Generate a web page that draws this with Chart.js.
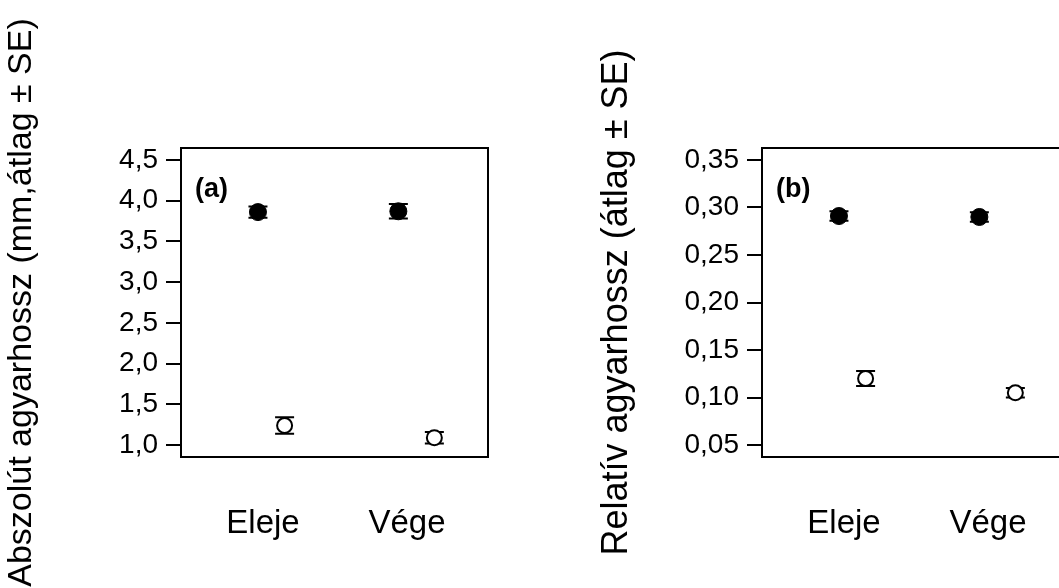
<!DOCTYPE html>
<html>
<head>
<meta charset="utf-8">
<script src="https://cdn.jsdelivr.net/npm/chart.js@4.4.1/dist/chart.umd.min.js"></script>
<style>
  html, body { margin: 0; padding: 0; background: #fff; overflow: hidden; }
  body { width: 1059px; height: 588px; position: relative; }
  .panel { position: absolute; top: 0; width: 540px; height: 588px; }
  #panelA { left: 0; }
  #panelB { left: 581px; }
</style>
</head>
<body>
<div class="panel" id="panelA"><canvas id="chartA" width="540" height="588"></canvas></div>
<div class="panel" id="panelB"><canvas id="chartB" width="540" height="588"></canvas></div>
<script>
// Categories on the x axis
const categories = ['Eleje', 'Vége'];
const categoryPos = [1, 2];
// where the two groups sit around each category
const filledX = [0.965, 1.94];
const openX = [1.15, 2.19];

// (a) absolute tusk length
const absFilledMean = [3.86, 3.87];
const absFilledSE = [0.07, 0.09];
const absOpenMean = [1.24, 1.09];
const absOpenSE = [0.10, 0.07];
const absTicks = [1.0, 1.5, 2.0, 2.5, 3.0, 3.5, 4.0, 4.5];

// (b) relative tusk length
const relFilledMean = [0.291, 0.290];
const relFilledSE = [0.005, 0.005];
const relOpenMean = [0.120, 0.105];
const relOpenSE = [0.008, 0.005];
const relTicks = [0.05, 0.10, 0.15, 0.20, 0.25, 0.30, 0.35];

const FONT = "'Liberation Sans', Arial, Helvetica, sans-serif";

function makePoints(xs, means, ses) {
    return xs.map((x, i) => ({ x: x, y: means[i], se: ses[i] }));
}

// Error bars (mean ± SE) drawn under the markers
const errorBars = {
    id: 'errorBars',
    beforeDatasetsDraw(chart) {
        const ctx = chart.ctx;
        const xs = chart.scales.x, ys = chart.scales.y;
        ctx.save();
        ctx.strokeStyle = '#000';
        ctx.lineWidth = 2;
        chart.data.datasets.forEach(ds => {
            ds.data.forEach(p => {
                const px = xs.getPixelForValue(p.x);
                const top = ys.getPixelForValue(p.y + p.se);
                const bot = ys.getPixelForValue(p.y - p.se);
                ctx.beginPath();
                ctx.moveTo(px, top); ctx.lineTo(px, bot);
                ctx.moveTo(px - 9.5, top); ctx.lineTo(px + 9.5, top);
                ctx.moveTo(px - 9.5, bot); ctx.lineTo(px + 9.5, bot);
                ctx.stroke();
            });
        });
        ctx.restore();
    }
};

// Frame around the plot and the panel letter
const frame = {
    id: 'frame',
    afterDraw(chart, args, opts) {
        const ctx = chart.ctx;
        const a = chart.chartArea;
        ctx.save();
        ctx.strokeStyle = '#000';
        ctx.lineWidth = 2;
        ctx.strokeRect(a.left, a.top, a.right - a.left, a.bottom - a.top);
        ctx.fillStyle = '#000';
        ctx.font = 'bold 27px ' + FONT;
        ctx.textBaseline = 'middle';
        ctx.textAlign = 'left';
        ctx.fillText(opts.label, a.left + 14, a.top + 42);
        ctx.restore();
    }
};

function makeChart(id, cfg) {
    return new Chart(document.getElementById(id), {
        type: 'scatter',
        data: {
            datasets: [
                {
                    data: makePoints(filledX, cfg.filledMean, cfg.filledSE),
                    pointRadius: 8.5,
                    pointBackgroundColor: '#000',
                    pointBorderColor: '#000',
                    pointBorderWidth: 1
                },
                {
                    data: makePoints(openX, cfg.openMean, cfg.openSE),
                    pointRadius: 7.5,
                    pointBackgroundColor: '#fff',
                    pointBorderColor: '#000',
                    pointBorderWidth: 2
                }
            ]
        },
        options: {
            responsive: false,
            animation: false,
            layout: { padding: { top: 148, right: 52, bottom: 0, left: 0 } },
            plugins: {
                legend: { display: false },
                tooltip: { enabled: false },
                frame: { label: cfg.label }
            },
            scales: {
                x: {
                    type: 'linear',
                    min: 0.4306,
                    max: 2.5625,
                    afterBuildTicks: s => { s.ticks = categoryPos.map(v => ({ value: v })); },
                    afterFit: s => { s.height = 131; },
                    grid: { display: false, drawTicks: false },
                    border: { display: false },
                    ticks: {
                        callback: v => categories[categoryPos.indexOf(v)],
                        color: '#000',
                        font: { family: FONT, size: 33 },
                        padding: 47,
                        maxRotation: 0,
                        autoSkip: false
                    }
                },
                y: {
                    min: cfg.yMin,
                    max: cfg.yMax,
                    afterBuildTicks: s => { s.ticks = cfg.ticks.map(v => ({ value: v })); },
                    afterFit: s => { s.width = 181; },
                    grid: {
                        drawOnChartArea: false,
                        drawTicks: true,
                        tickLength: 15,
                        lineWidth: 2,
                        color: '#000'
                    },
                    border: { display: true, width: 2, color: '#000' },
                    ticks: {
                        callback: v => v.toFixed(cfg.decimals).replace('.', ','),
                        color: '#000',
                        font: { family: FONT, size: 28 },
                        padding: 8
                    },
                    title: {
                        display: true,
                        text: cfg.title,
                        color: '#000',
                        font: { family: FONT, size: cfg.titleSize, lineHeight: 1 },
                        padding: { top: cfg.titlePad, bottom: 0 }
                    }
                }
            }
        },
        plugins: [errorBars, frame]
    });
}

makeChart('chartA', {
    label: '(a)',
    filledMean: absFilledMean, filledSE: absFilledSE,
    openMean: absOpenMean, openSE: absOpenSE,
    ticks: absTicks, decimals: 1,
    yMin: 0.853, yMax: 4.647,
    title: 'Abszolút agyarhossz (mm,átlag ± SE)',
    titleSize: 34, titlePad: 5
});

makeChart('chartB', {
    label: '(b)',
    filledMean: relFilledMean, filledSE: relFilledSE,
    openMean: relOpenMean, openSE: relOpenSE,
    ticks: relTicks, decimals: 2,
    yMin: 0.0374, yMax: 0.3626,
    title: 'Relatív agyarhossz (átlag ± SE)',
    titleSize: 36, titlePad: 18
});
</script>
</body>
</html>
